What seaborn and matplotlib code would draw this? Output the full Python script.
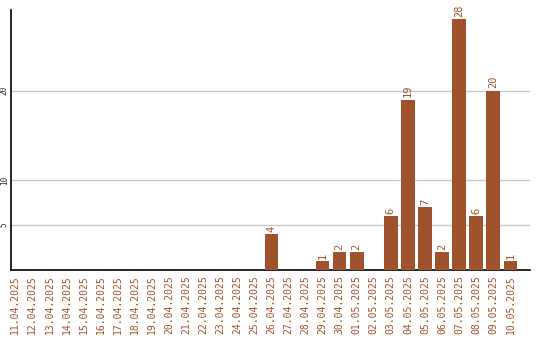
import matplotlib
matplotlib.use("Agg")
import matplotlib.pyplot as plt
import seaborn as sns
import pandas as pd

dates = ["11.04.2025", "12.04.2025", "13.04.2025", "14.04.2025", "15.04.2025",
         "16.04.2025", "17.04.2025", "18.04.2025", "19.04.2025", "20.04.2025",
         "21.04.2025", "22.04.2025", "23.04.2025", "24.04.2025", "25.04.2025",
         "26.04.2025", "27.04.2025", "28.04.2025", "29.04.2025", "30.04.2025",
         "01.05.2025", "02.05.2025", "03.05.2025", "04.05.2025", "05.05.2025",
         "06.05.2025", "07.05.2025", "08.05.2025", "09.05.2025", "10.05.2025"]
values = [0, 0, 0, 0, 0, 0, 0, 0, 0, 0, 0, 0, 0, 0, 0,
          4, 0, 0, 1, 2, 2, 0, 6, 19, 7, 2, 28, 6, 20, 1]
yticks = [5, 10, 20]

color = "#A0522D"
sns.set_theme(style="white")
plt.rcParams["font.family"] = ["DejaVu Sans Mono"]

df = pd.DataFrame({"date": dates, "value": values})
fig = plt.figure(figsize=(5.4, 3.4), dpi=100)
ax = fig.add_axes([11/540, 70/340, 519/540, 260/340])
sns.barplot(data=df, x="date", y="value", color=color, saturation=1, width=0.8,
            linewidth=0, ax=ax, zorder=3)

ax.set_ylim(0, 29)
ax.set_xlim(-0.25, 30.15)
ax.set_yticks(yticks)
ax.set_yticklabels([str(t) for t in yticks], rotation=90, va="center", fontsize=5.5)
ax.yaxis.grid(True, color="#c8c8c8", linewidth=1, zorder=0)
ax.xaxis.grid(False)
ax.tick_params(axis="y", length=0, pad=1.5)
ax.tick_params(axis="x", length=0, pad=4)
ax.set_xticks(range(len(dates)))
ax.set_xticklabels(dates, rotation=90, color=color, fontsize=7, ha="center", va="top")
ax.set_xlabel("")
ax.set_ylabel("")
for s in ["top", "right"]:
    ax.spines[s].set_visible(False)
for s in ["left", "bottom"]:
    ax.spines[s].set_color("black")
    ax.spines[s].set_linewidth(1.2)

for i, v in enumerate(values):
    if v > 0:
        ax.text(i, v + 0.25, str(v), rotation=90, ha="center", va="bottom",
                color=color, fontsize=7.5)

fig.savefig("out.png", dpi=100)
